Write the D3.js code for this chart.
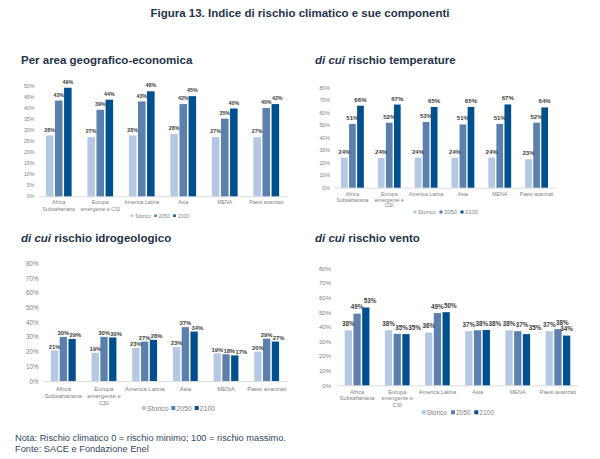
<!DOCTYPE html>
<html><head><meta charset="utf-8">
<script src="https://cdn.jsdelivr.net/npm/d3@7"></script>
<style>html,body{margin:0;padding:0;background:#fff}svg{display:block;font-family:"Liberation Sans",Arial,sans-serif}</style>
</head><body><svg id="c" width="600" height="459"></svg>
<script>
const categories=[["Africa","Subsahariana"],["Europa","emergente e CSI"],["America Latina"],["Asia"],["MENA"],["Paesi avanzati"]];
const categoriesWrapped=[["Africa","Subsahariana"],["Europa","emergente e","CSI"],["America Latina"],["Asia"],["MENA"],["Paesi avanzati"]];
const seriesNames=["Storico","2050","2100"];
const seriesColors=["#b4c7e3","#5b80ae","#004f8f"];
const areaValues=[[27.6,43.4,49.2],[26.8,39.2,43.8],[27.6,43,47.6],[28.2,41.8,45.4],[26.9,35.2,39.8],[26.8,40,41.8]];
const tempValues=[[24,51,65.6],[23.7,52,66.5],[24,52.6,64.6],[24,50.6,64.6],[24,51,66.6],[22.8,52,64.2]];
const idroValues=[[20.8,30,28.6],[19.2,30,29.6],[22.6,26.8,28],[23,36.6,33.6],[18.8,18.2,17.4],[20,28.8,26.8]];
const ventoValues=[[37.6,49,53.2],[37.6,35.2,35],[36,49.4,50],[37,37.6,37.8],[37.6,37,35],[37,38.4,34]];
const ticksArea=[0,5,10,15,20,25,30,35,40,45,50];
const ticksOther=[0,10,20,30,40,50,60,70,80];

const svg=d3.select("#c");
const ink="#1f3349", grey="#7f7f7f", dark="#404040";
svg.append("text").attr("x",300).attr("y",16.5).attr("text-anchor","middle")
  .attr("font-size",11.5).attr("font-weight","bold").attr("fill",ink)
  .text("Figura 13. Indice di rischio climatico e sue componenti");

function heading(x,y,it,rest,size){
  const t=svg.append("text").attr("x",x).attr("y",y).attr("font-size",size).attr("font-weight","bold").attr("fill",ink);
  if(it) t.append("tspan").attr("font-style","italic").text(it+" ");
  t.append("tspan").text(rest);
}
function panel(o){
  const x=d3.scaleBand().domain(d3.range(6)).range([o.x0,o.x1]).paddingInner(o.pad).paddingOuter(o.pad/2);
  const xi=d3.scaleBand().domain(d3.range(3)).range([0,x.bandwidth()]).paddingInner(0.17);
  const y=d3.scaleLinear().domain([0,o.max]).range([o.y0,o.yTop]);
  const g=svg.append("g");
  const yAxis=d3.axisLeft(y).tickValues(o.ticks).tickSize(0).tickPadding(o.tickPad).tickFormat(d=>d+"%");
  const ya=g.append("g").attr("transform",`translate(${o.x0},0)`).call(yAxis);
  ya.select(".domain").remove();
  ya.selectAll("text").attr("font-size",o.tickFs).attr("fill",grey).attr("font-family","inherit");
  const xAxis=d3.axisBottom(x).tickSize(0).tickFormat("");
  const xa=g.append("g").attr("transform",`translate(0,${o.y0})`).call(xAxis);
  xa.select(".domain").attr("stroke","#dcdcdc").attr("stroke-width",1);
  xa.selectAll(".tick").each(function(d){
    const t=d3.select(this).append("text").attr("text-anchor","middle").attr("font-size",o.fs).attr("fill",grey);
    o.cats[d].forEach((s,i)=>t.append("tspan").attr("x",0).attr("y",o.labelDy+i*o.lineH).text(s));
  });
  const groups=g.selectAll(".grp").data(o.values).join("g").attr("class","grp").attr("transform",(d,i)=>`translate(${x(i)},0)`);
  groups.selectAll("rect").data(d=>d).join("rect")
    .attr("x",(d,i)=>xi(i)).attr("width",xi.bandwidth())
    .attr("y",d=>y(d)).attr("height",d=>o.y0-y(d))
    .attr("fill",(d,i)=>seriesColors[i]);
  groups.each(function(){
    const placed=[];
    d3.select(this).selectAll(".lab").data(d=>d).join("text").attr("class","lab")
      .attr("y",d=>y(d)-o.labOff)
      .attr("text-anchor","middle").attr("font-size",o.labFs).attr("font-weight","bold").attr("fill",dark)
      .text(d=>Math.round(d)+"%")
      .each(function(d,i){
        const w=this.getComputedTextLength()+0.4, ty=y(d)-o.labOff;
        let cx=xi(i)+xi.bandwidth()/2;
        placed.forEach(p=>{
          if(Math.abs(p.y-ty)<o.labFs*1.0 && cx-w/2<p.x+p.w/2) cx=p.x+p.w/2+w/2;
        });
        placed.push({x:cx,y:ty,w});
        d3.select(this).attr("x",cx);
      });
  });
  const lg=g.append("g").attr("transform",`translate(${o.lx},${o.ly})`);
  let cx=0;
  seriesNames.forEach((n,i)=>{
    lg.append("rect").attr("x",cx).attr("y",-o.ls/2).attr("width",o.ls).attr("height",o.ls).attr("fill",seriesColors[i]);
    lg.append("text").attr("x",cx+o.lo).attr("y",o.legFs*0.36).attr("font-size",o.legFs).attr("fill",grey).text(n);
    cx+=o.lgap[i];
  });
}
heading(21,64,"","Per area geografico-economica",11.5);
heading(315,64,"di cui","rischio temperature",11.5);
heading(21,242,"di cui","rischio idrogeologico",11.5);
heading(315,242,"di cui","rischio vento",11.5);

panel({values:areaValues,cats:categories,x0:38,x1:287,y0:196.3,yTop:86,max:50,ticks:ticksArea,pad:0.38,fs:5.25,tickFs:5.2,labFs:5.3,labOff:3.8,tickPad:3.7,labelDy:8.2,lineH:7,
  lx:130.7,ly:215.7,ls:2.6,lo:4.6,legFs:5,lgap:[23.5,19,17]});
panel({values:tempValues,cats:categoriesWrapped,x0:334,x1:555,y0:187.7,yTop:87.7,max:80,ticks:ticksOther,pad:0.38,fs:5.2,tickFs:5.3,labFs:6.1,labOff:4,tickPad:4,labelDy:8.3,lineH:5.7,
  lx:413.5,ly:212,ls:3,lo:4.5,legFs:5.8,lgap:[26,21,17]});
panel({values:idroValues,cats:categoriesWrapped,x0:43,x1:287,y0:381,yTop:263.3,max:80,ticks:ticksOther,pad:0.39,fs:6,tickFs:6.3,labFs:5.8,labOff:1.7,tickPad:4.3,labelDy:9.7,lineH:7,
  lx:142,ly:408,ls:4,lo:4.9,legFs:7,lgap:[29.3,23.4,20]});
panel({values:ventoValues,cats:categoriesWrapped,x0:337,x1:578,y0:385.3,yTop:268.3,max:80,ticks:ticksOther,pad:0.385,fs:5.6,tickFs:6,labFs:6.3,labOff:4.3,tickPad:6,labelDy:8.4,lineH:6.7,
  lx:421.7,ly:412.3,ls:4,lo:5,legFs:6.5,lgap:[29.3,23.3,20]});

svg.append("text").attr("x",15).attr("y",441).attr("font-size",9.25).attr("fill","#33475b").text("Nota: Rischio climatico 0 = rischio minimo; 100 = rischio massimo.");
svg.append("text").attr("x",15).attr("y",451.5).attr("font-size",9.25).attr("fill","#33475b").text("Fonte: SACE e Fondazione Enel");
</script></body></html>
